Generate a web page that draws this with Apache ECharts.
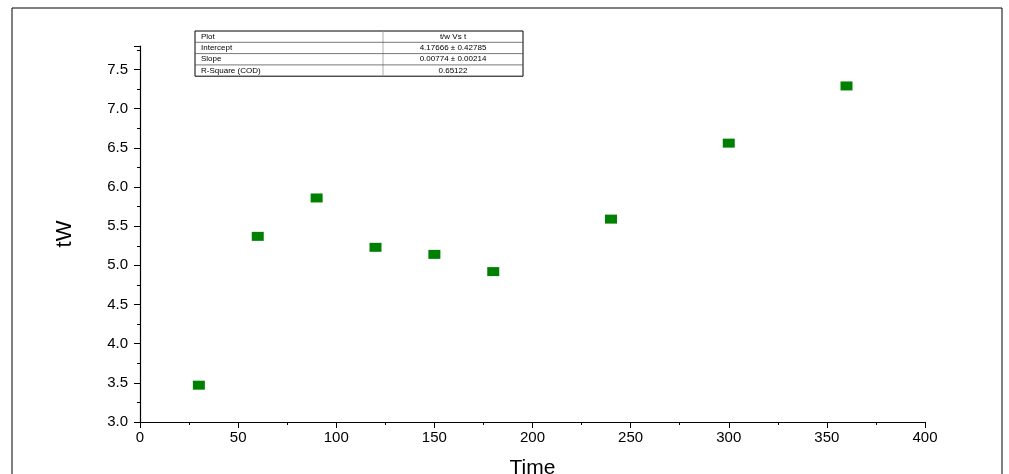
<!DOCTYPE html>
<html>
<head>
<meta charset="utf-8">
<script src="https://cdn.jsdelivr.net/npm/echarts@6/dist/echarts.min.js"></script>
<style>html,body{margin:0;padding:0;background:#fff}#c{width:1009px;height:474px}</style>
</head>
<body>
<div id="c"></div>
<script>
// data
var times = [30, 60, 90, 120, 150, 180, 240, 300, 360];
var tw = [3.47, 5.37, 5.86, 5.23, 5.14, 4.92, 5.59, 6.56, 7.29];
var tableRows = [
  ['Plot', 't/w Vs t'],
  ['Intercept', '4.17666 \u00b1 0.42785'],
  ['Slope', '0.00774 \u00b1 0.00214'],
  ['R-Square (COD)', '0.65122']
];

var chart = echarts.init(document.getElementById('c'));

// stats table as graphic elements
var g = [{
  type: 'rect', shape: {x: 12, y: 8, width: 990, height: 480},
  style: {fill: 'none', stroke: '#000', lineWidth: 1}, silent: true
}];
var tx = 195, ty = 31, tw_ = 328, rh = 11.3, split = 383;
g.push({type: 'rect', shape: {x: tx, y: ty, width: tw_, height: rh * 4}, style: {fill: '#fff', stroke: '#000', lineWidth: 1}});
g.push({type: 'line', shape: {x1: split, y1: ty, x2: split, y2: ty + rh * 4}, style: {stroke: '#999', lineWidth: 0.8}});
tableRows.forEach(function (r, i) {
  if (i > 0) g.push({type: 'line', shape: {x1: tx, y1: ty + rh * i, x2: tx + tw_, y2: ty + rh * i}, style: {stroke: '#555', lineWidth: 0.8}});
  g.push({type: 'text', x: tx + 6, y: ty + rh * i + rh / 2, style: {text: r[0], font: '8px Arial', fill: '#000', verticalAlign: 'middle'}});
  g.push({type: 'text', x: (split + tx + tw_) / 2, y: ty + rh * i + rh / 2, style: {text: r[1], font: '8px Arial', fill: '#000', align: 'center', verticalAlign: 'middle'}});
});

chart.setOption({
  animation: false,
  graphic: g,
  grid: {left: 140, right: 84, top: 46, bottom: 52, containLabel: false, outerBoundsMode: 'none'},
  xAxis: {
    type: 'value', min: 0, max: 400, interval: 50,
    name: 'Time', nameLocation: 'middle', nameGap: 36,
    nameTextStyle: {fontSize: 21, fontFamily: 'Arial', color: '#000'},
    axisLine: {lineStyle: {color: '#000', width: 1.2}},
    axisTick: {length: 6, lineStyle: {color: '#000'}},
    minorTick: {show: true, splitNumber: 2, length: 3, lineStyle: {color: '#000'}},
    axisLabel: {fontSize: 15, fontFamily: 'Arial', color: '#000'},
    splitLine: {show: false}
  },
  yAxis: {
    type: 'value', min: 3, max: 7.8, interval: 0.5,
    name: 'tW', nameLocation: 'middle', nameGap: 64,
    nameTextStyle: {fontSize: 22, fontFamily: 'Arial', color: '#000'},
    axisLine: {show: true, lineStyle: {color: '#000', width: 1.2}},
    axisTick: {length: 6, lineStyle: {color: '#000'}},
    minorTick: {show: true, splitNumber: 2, length: 3, lineStyle: {color: '#000'}},
    axisLabel: {fontSize: 15, fontFamily: 'Arial', color: '#000', showMaxLabel: false, margin: 12,
      formatter: function (v) { return v.toFixed(1); }},
    splitLine: {show: false}
  },
  series: [{
    type: 'scatter', symbol: 'rect', symbolSize: [12, 9],
    itemStyle: {color: '#008000', opacity: 1},
    data: times.map(function (t, i) { return [t, tw[i]]; })
  }]
});
</script>
</body>
</html>
